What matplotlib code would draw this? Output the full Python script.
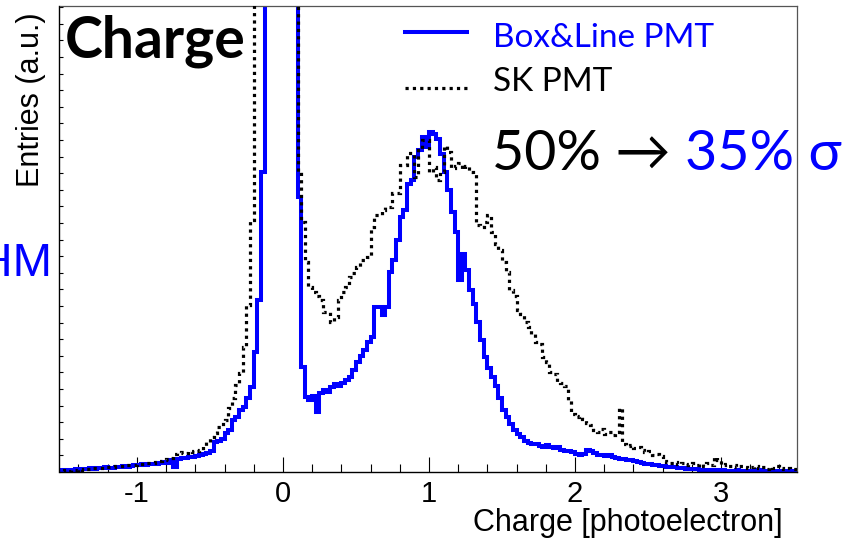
import matplotlib
matplotlib.use("Agg")
import matplotlib.pyplot as plt
import numpy as np
from matplotlib.lines import Line2D

# charge histogram, bin width 0.025 pe, first edge at -1.55
bin_width = 0.025
first_edge = -1.55

box_line = [
    1, 2, 1, 2, 2, 3, 2, 3, 3, 4, 3, 4, 4, 5, 4, 4, 5, 5, 6, 5,
    6, 7, 7, 8, 7, 8, 8, 8, 9, 10, 9, 12, 5, 13, 14, 14, 15, 15, 16, 17,
    18, 19, 21, 30, 31, 33, 39, 42, 52, 55, 62, 65, 74, 85, 120, 172, 300, 900, 2000, 3500,
    5000, 6000, 5500, 4000, 2500, 1200, 275, 105, 75, 72, 76, 60, 79, 82, 80, 85, 88, 86, 89, 92,
    95, 102, 110, 116, 122, 130, 135, 165, 165, 157, 165, 200, 212, 232, 255, 262, 288, 292, 315, 322,
    335, 325, 340, 338, 333, 318, 300, 282, 260, 240, 192, 218, 202, 182, 168, 150, 132, 115, 104, 95,
    86, 74, 62, 55, 48, 42, 38, 35, 31, 29, 28, 28, 26, 25, 27, 25, 24, 25, 22, 21,
    21, 20, 18, 17, 18, 22, 21, 19, 17, 17, 16, 17, 15, 14, 13, 13, 12, 12, 11, 10,
    9, 8, 8, 7, 7, 6, 6, 5, 5, 5, 4, 4, 3, 3, 3, 3, 2, 2, 2, 2,
    2, 1, 2, 1, 1, 1, 2, 1, 1, 1, 1, 1, 2, 1, 1, 1, 1, 1, 1, 1, 1, 1, 1, 1,
]

sk = [
    1, 1, 2, 1, 2, 2, 3, 2, 3, 3, 4, 4, 4, 5, 5, 5, 6, 6, 6, 7,
    7, 7, 8, 8, 9, 9, 9, 10, 11, 12, 13, 14, 18, 19, 20, 19, 21, 20, 21, 22,
    26, 30, 35, 39, 45, 48, 52, 64, 74, 87, 99, 125, 167, 252, 800, 1500, 2500, 3500, 4500, 5000,
    6000, 7000, 6500, 5000, 3500, 2000, 300, 250, 210, 185, 180, 176, 172, 160, 160, 150, 155, 172, 180, 185,
    195, 199, 205, 212, 212, 215, 245, 257, 257, 262, 265, 265, 279, 279, 307, 307, 319, 319, 295, 322,
    332, 332, 300, 305, 292, 300, 326, 320, 304, 306, 309, 303, 306, 300, 298, 247, 245, 250, 257, 240,
    228, 222, 210, 200, 182, 176, 162, 158, 150, 145, 138, 130, 128, 115, 110, 100, 98, 90, 89, 86,
    72, 58, 55, 56, 53, 49, 47, 42, 40, 43, 38, 40, 37, 40, 64, 28, 26, 27, 24, 25,
    22, 20, 21, 17, 18, 16, 11, 10, 9, 10, 8, 9, 7, 8, 9, 7, 8, 6, 9, 7,
    15, 12, 7, 8, 6, 7, 5, 6, 5, 4, 5, 6, 4, 5, 3, 5, 4, 6, 4, 3, 4, 3, 3, 3,
]

x_ticks = [-1, 0, 1, 2, 3]
x_range = (-1.53, 3.52)
y_top = 466

edges = first_edge + bin_width * np.arange(len(box_line) + 1)

fig = plt.figure(figsize=(8.62, 5.42), dpi=100)
ax = fig.add_axes([59.5 / 862, 70 / 542, 737.5 / 862, 466 / 542])

blue_style = dict(color="#0000ff", lw=2.9)
dot_style = dict(color="black", lw=2.3, ls=(0, (1.0, 1.3)))

ax.stairs(box_line, edges, zorder=2, **blue_style)
ax.stairs(sk, edges, zorder=3, **dot_style)

ax.set_xlim(*x_range)
ax.set_ylim(0, y_top)

ax.set_xticks(x_ticks)
ax.set_xticklabels([str(t) for t in x_ticks], family="Liberation Sans", fontsize=21)
ax.set_xticks(np.arange(-1.4, 3.5, 0.2), minor=True)
ax.tick_params(axis="x", which="major", direction="in", length=11, width=0.8, pad=6)
ax.tick_params(axis="x", which="minor", direction="in", length=5.5, width=0.8)
ax.set_yticks([])
ax.set_yticks(np.arange(16.6, y_top, 16.6), minor=True)
ax.tick_params(axis="y", which="minor", direction="in", length=3, width=0.8)

for side in ("top", "right"):
    ax.spines[side].set_color("#555555")
    ax.spines[side].set_linewidth(0.9)
for side in ("left", "bottom"):
    ax.spines[side].set_linewidth(1.0)

fig.text(783 / 862, 1 - 523 / 542, "Charge [photoelectron]", ha="right", va="center",
         family="Liberation Sans", fontsize=22)
fig.text(31 / 862, 1 - 12 / 542, "Entries (a.u.)", rotation=90, ha="center", va="top",
         family="Liberation Sans", fontsize=22)

# overlaid slide annotations
fig.text(65 / 862, 1 - 41 / 542, "Charge", ha="left", va="center", family="Lato",
         fontweight="bold", fontsize=41)
fig.text(52 / 862, 1 - 264 / 542, "FWHM", ha="right", va="center", color="#0000ff",
         family="Liberation Sans", fontsize=34)

fig.add_artist(Line2D([405 / 862, 467 / 862], [1 - 32 / 542] * 2, **blue_style))
fig.add_artist(Line2D([405 / 862, 468 / 862], [1 - 88 / 542] * 2, **dot_style))
fig.text(493 / 862, 1 - 38 / 542, "Box&Line PMT", ha="left", va="center", color="#0000ff",
         family="Lato", fontsize=24)
fig.text(493 / 862, 1 - 82 / 542, "SK PMT", ha="left", va="center", color="black",
         family="Lato", fontsize=24)

t1 = fig.text(492 / 862, 1 - 155 / 542, "50% \u2192 ", ha="left", va="center", color="black",
              family=["Lato", "DejaVu Sans"], fontsize=40)
fig.canvas.draw()
bb = t1.get_window_extent()
fig.text(bb.x1 / fig.bbox.width, 1 - 155 / 542, "35% \u03c3", ha="left", va="center",
         color="#0000ff", family=["Lato", "DejaVu Sans"], fontsize=40)

fig.savefig("out.png", dpi=100)
